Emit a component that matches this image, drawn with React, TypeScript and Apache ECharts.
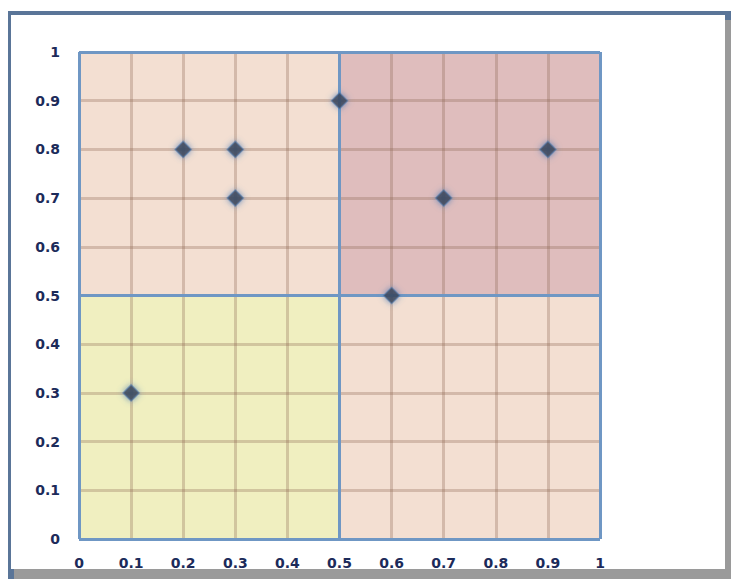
import React, { useEffect, useRef } from "react";
import * as echarts from "echarts";

const xValues = [0.1, 0.2, 0.3, 0.3, 0.5, 0.6, 0.7, 0.9];
const yValues = [0.3, 0.8, 0.8, 0.7, 0.9, 0.5, 0.7, 0.8];
const quadrants = [
  { x0: 0, x1: 0.5, y0: 0.5, y1: 1, color: "#f3dfd2" },
  { x0: 0.5, x1: 1, y0: 0.5, y1: 1, color: "#dfbdbd" },
  { x0: 0, x1: 0.5, y0: 0, y1: 0.5, color: "#f0efc0" },
  { x0: 0.5, x1: 1, y0: 0, y1: 0.5, color: "#f3dfd2" },
];
const dividers = [0, 0.5, 1];

export default function App() {
  const ref = useRef<HTMLDivElement>(null);
  useEffect(() => {
    const chart = echarts.init(ref.current!, null, { renderer: "svg" });
    const labelStyle = {
      color: "#1c2b5a",
      fontWeight: "bold" as const,
      fontSize: 14,
      fontFamily: "DejaVu Sans",
    };
    const gridLine = { show: true, lineStyle: { color: "rgba(140,100,80,0.3)", width: 3 } };
    chart.setOption({
      animation: false,
      backgroundColor: "#ffffff",
      graphic: [
        { type: "rect", shape: { x: 8, y: 11, width: 723, height: 568 }, style: { fill: "#5a7598" }, z: -10 },
        { type: "rect", shape: { x: 14, y: 20, width: 717, height: 559 }, style: { fill: "#9a9a9a" }, z: -9 },
        { type: "rect", shape: { x: 11, y: 15, width: 714, height: 554 }, style: { fill: "#ffffff" }, z: -8 },
      ],
      grid: { left: 79, right: 131, top: 52, bottom: 40, z: 3 },
      xAxis: {
        type: "value",
        min: 0,
        max: 1,
        interval: 0.1,
        z: 3,
        axisLine: { show: false },
        axisTick: { show: false },
        axisLabel: { ...labelStyle, margin: 17 },
        splitLine: gridLine,
      },
      yAxis: {
        type: "value",
        min: 0,
        max: 1,
        interval: 0.1,
        z: 3,
        axisLine: { show: false },
        axisTick: { show: false },
        axisLabel: { ...labelStyle, margin: 19 },
        splitLine: gridLine,
      },
      series: [
        {
          type: "scatter",
          z: 1,
          data: [],
          markArea: {
            silent: true,
            data: quadrants.map((q) => [
              { xAxis: q.x0, yAxis: q.y0, itemStyle: { color: q.color } },
              { xAxis: q.x1, yAxis: q.y1 },
            ]),
          },
        },
        {
          type: "scatter",
          z: 5,
          symbol: "diamond",
          symbolSize: 16,
          data: xValues.map((x, i) => [x, yValues[i]]),
          itemStyle: {
            color: "#3a404e",
            borderColor: "rgba(80,120,170,0.7)",
            borderWidth: 1.5,
            shadowBlur: 6,
            shadowColor: "rgba(70,120,180,0.9)",
          },
          markLine: {
            silent: true,
            symbol: "none",
            label: { show: false },
            lineStyle: { color: "#6f97c4", width: 3, type: "solid" },
            data: [
              ...dividers.map((v) => ({ xAxis: v })),
              ...dividers.map((v) => ({ yAxis: v })),
            ],
          },
        },
      ],
    });
    return () => chart.dispose();
  }, []);
  return (
    <div
      ref={ref}
      style={{ position: "fixed", left: 0, top: 0, width: 731, height: 579 }}
    />
  );
}
